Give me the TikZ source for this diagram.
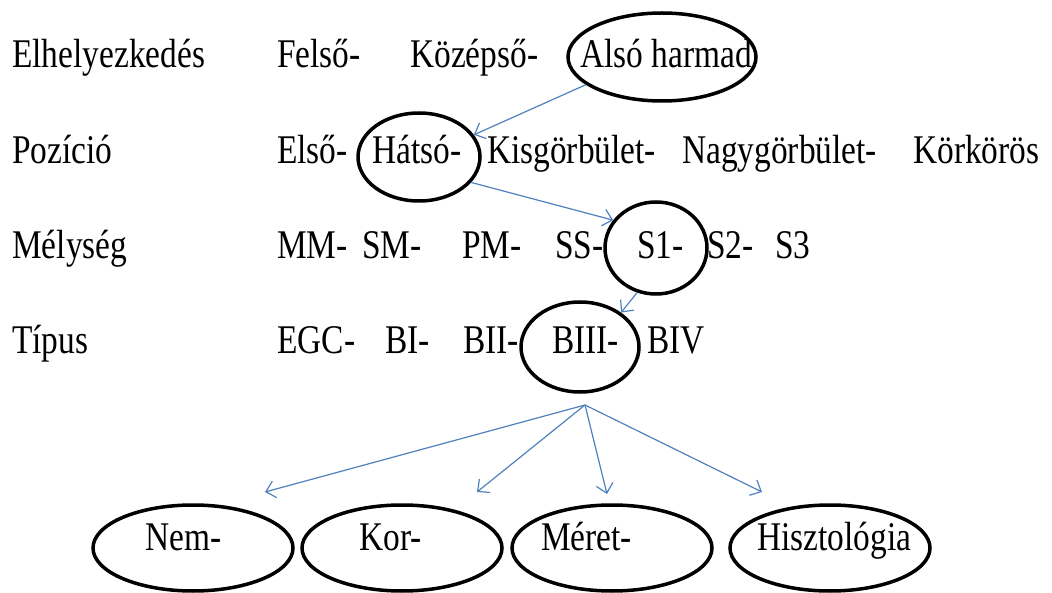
\documentclass[tikz,border=0pt]{standalone}
\usepackage{fontspec}
\usepackage{graphicx}
\setmainfont{Liberation Serif}
\usetikzlibrary{shapes.geometric,arrows.meta,positioning}
\definecolor{linkblue}{RGB}{79,129,189}

\newcommand{\tall}[1]{\scalebox{1}[1.22]{#1}}

\tikzset{
  word/.style={anchor=base west, inner sep=0pt, font=\fontsize{33.4}{40}\selectfont},
  ring/.style={ellipse, draw, line width=3.5pt, inner sep=0pt},
  link/.style={draw=linkblue, line width=1.2pt, -{Straight Barb[length=9pt,width=17pt]}}
}

\begin{document}
\begin{tikzpicture}[x=1pt,y=-1pt]
\useasboundingbox (0,0) rectangle (1052,593);

% circled choices
\node[ring, minimum width=188, minimum height=88] (alsoE) at (662,57) {};
\node[ring, minimum width=122, minimum height=88] (hatsoE) at (419,157) {};
\node[ring, minimum width=102, minimum height=92] (s1E) at (656,248) {};
\node[ring, minimum width=118, minimum height=90] (biiiE) at (580,347) {};
\foreach \x/\n in {193/nem,402/kor,612/meret,830/hisz}
  \node[ring, minimum width=200, minimum height=86] (\n E) at (\x,548) {};

% row labels
\node[word] (hely) at (12,68) {\tall{Elhelyezkedés}};
\node[word] (pozi) at (12,164) {\tall{Pozíció}};
\node[word] (mely) at (12,259) {\tall{Mélység}};
\node[word] (tipus) at (12,354) {\tall{Típus}};

% row values
\foreach \x/\w [count=\i] in {277/Felső-,410/Középső-,580/Alsó harmad}
  \node[word] (a\i) at (\x,68) {\tall{\w}};
\foreach \x/\w [count=\i] in {277/Első-,372/Hátsó-,487/Kisgörbület-,682/Nagygörbület-,913/Körkörös}
  \node[word] (b\i) at (\x,164) {\tall{\w}};
\foreach \x/\w [count=\i] in {277/MM-,362/SM-,462/PM-,555/SS-,637/S1-,707/S2-,775/S3}
  \node[word] (c\i) at (\x,259) {\tall{\w}};
\foreach \x/\w [count=\i] in {277/EGC-,385/BI-,463/BII-,552/BIII-,647/BIV}
  \node[word] (d\i) at (\x,354) {\tall{\w}};

% bottom factors
\foreach \x/\w/\n in {145/Nem-/nem,359/Kor-/kor,541/Méret-/meret,757/Hisztológia/hisz}
  \node[word] (\n) at (\x,550) {\tall{\w}};

% arrows
\draw[link] (alsoE.200) -- (hatsoE.22);
\draw[link] (hatsoE.-26) -- (s1E.147);
\draw[link] (s1E.247) -- (biiiE.40);

\coordinate (split) at (585,405);
\coordinate (nemTip) at (265,492);
\coordinate (korTip) at (477,492);
\coordinate (meretTip) at (607,494);
\coordinate (hiszTip) at (762,492);
\foreach \n in {nem,kor,meret,hisz}
  \draw[link] (split) -- (\n Tip);

\end{tikzpicture}
\end{document}
